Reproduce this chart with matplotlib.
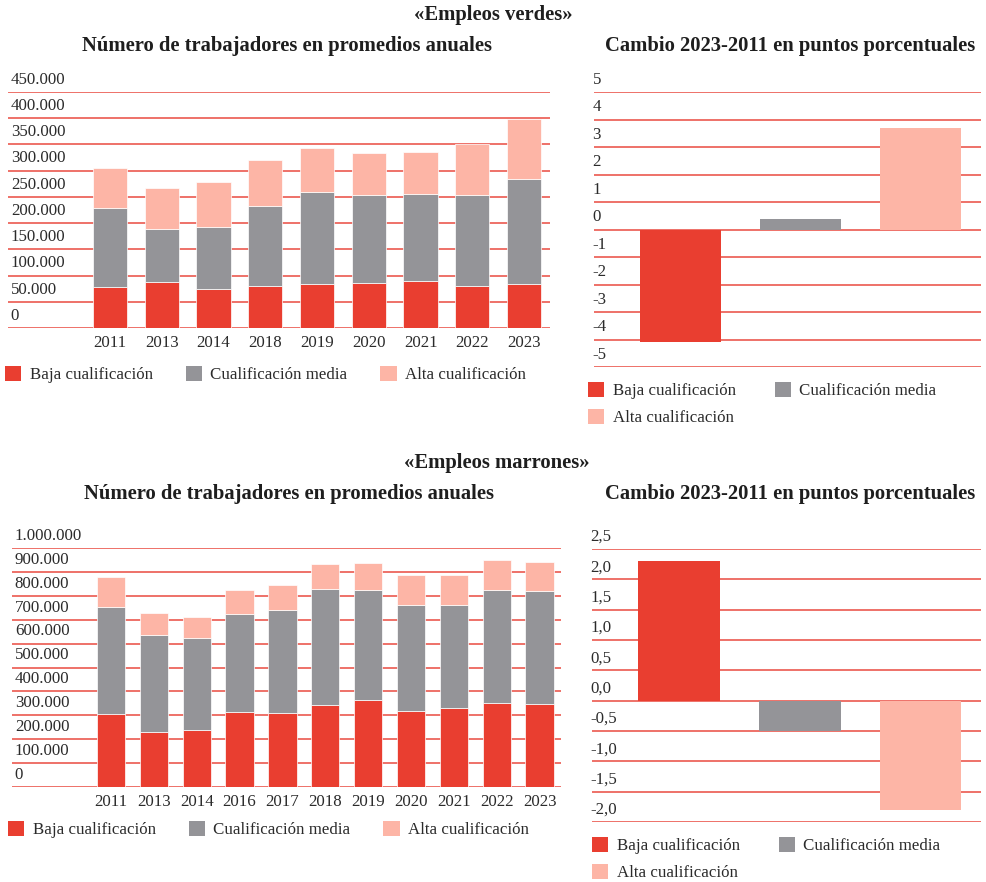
#!/usr/bin/env python
## Empleos verdes / marrones: stacked bars by qualification + change 2023-2011

import numpy as np
import matplotlib
matplotlib.use('Agg')
from matplotlib import pyplot as plt
from matplotlib.patches import Patch

plt.rcParams['font.family'] = ['Liberation Serif', 'DejaVu Serif']

# ---- data ----
series = ['Baja cualificación', 'Cualificación media', 'Alta cualificación']
colors = ['#e93e30', '#949498', '#fdb5a6']

verdes_years = ['2011', '2013', '2014', '2018', '2019', '2020', '2021', '2022', '2023']
verdes_baja = [77500, 87000, 73500, 80500, 84500, 85000, 89000, 79500, 84500]
verdes_media = [152000, 102300, 119500, 152600, 175500, 167800, 165900, 174100, 199000]
verdes_alta = [76200, 78200, 85200, 86400, 83900, 80700, 81300, 97900, 115000]
verdes_cambio = [-4.1, 0.4, 3.7]

marrones_years = ['2011', '2013', '2014', '2016', '2017', '2018', '2019', '2020', '2021', '2022', '2023']
marrones_baja = [306800, 230100, 237100, 313800, 311000, 341700, 364000, 319400, 331900, 350100, 348700]
marrones_media = [446300, 405900, 386300, 410000, 429600, 485400, 461600, 442100, 428200, 475500, 471400]
marrones_alta = [127000, 90600, 86500, 99100, 103200, 105900, 110200, 126900, 126900, 122800, 119900]
marrones_cambio = [2.3, -0.5, -1.8]

verdes_ticks = np.arange(0, 450001, 50000)
marrones_ticks = np.arange(0, 1000001, 100000)
verdes_cambio_ticks = np.arange(-5, 6, 1)
marrones_cambio_ticks = np.arange(-2.0, 2.51, 0.5)

W, H = 986, 882
GRID = '#ea4a40'
TXT = '#2b2b2b'
FS = 12.2

fig = plt.figure(figsize=(W / 100, H / 100), dpi=100)


def px_axes(x0, x1, ytop, ybot):
    return fig.add_axes([x0 / W, 1 - ybot / H, (x1 - x0) / W, (ybot - ytop) / H])


def thousands(v):
    return f"{v:,.0f}".replace(',', '.')


def grid_and_labels(ax, ticks, fmt, dx=2):
    for t in ticks:
        ax.axhline(t, color=GRID, lw=1.1, zorder=1)
        ax.annotate(fmt(t), xy=(0, t), xycoords=('axes fraction', 'data'),
                    xytext=(dx, 3), textcoords='offset points',
                    ha='left', va='bottom', fontsize=FS, color=TXT,
                    annotation_clip=False)
    for s in ax.spines.values():
        s.set_visible(False)
    ax.set_yticks([])


def stacked(ax, years, baja, media, alta, ticks, xlim):
    x = np.arange(len(years))
    bottom = np.zeros(len(years))
    for vals, c in zip([baja, media, alta], colors):
        ax.bar(x, vals, bottom=bottom, width=0.66, color=c,
               edgecolor='white', linewidth=0.5, zorder=2)
        bottom = bottom + np.array(vals)
    ax.set_ylim(ticks[0], ticks[-1])
    ax.set_xlim(*xlim)
    ax.set_xticks(x, years)
    ax.tick_params(axis='x', length=0, pad=5, labelsize=FS, labelcolor=TXT)
    grid_and_labels(ax, ticks, thousands)


def cambio(ax, vals, ticks, fmt):
    x = np.arange(3)
    ax.bar(x, vals, width=0.675, color=colors, zorder=2)
    ax.set_ylim(ticks[0], ticks[-1])
    ax.set_xlim(-0.72, 2.5)
    ax.set_xticks([])
    grid_and_labels(ax, ticks, fmt, dx=-1)


handles = [Patch(facecolor=c, edgecolor='none') for c in colors]


def legend(x, y, ncol):
    if ncol == 2:
        h = [handles[0], handles[2], handles[1]]
        l = [series[0], series[2], series[1]]
        sp = 2.3
    else:
        h, l = handles, series
        sp = 1.95
    fig.legend(h, l, loc='upper left', bbox_to_anchor=(x / W, 1 - y / H),
               ncol=ncol, frameon=False, fontsize=FS, handlelength=0.95,
               handleheight=0.95, handletextpad=0.5, columnspacing=sp,
               labelspacing=0.6, borderpad=0, borderaxespad=0,
               labelcolor=TXT)


def ftext(x, y, s):
    fig.text(x / W, 1 - y / H, s, ha='center', va='center', fontsize=14.9,
             fontweight='bold', color='#1e1e1e')


# ---- top: empleos verdes ----
ftext(493, 15, '«Empleos verdes»')
ftext(287, 46, 'Número de trabajadores en promedios anuales')
ftext(790, 46, 'Cambio 2023-2011 en puntos porcentuales')

ax1 = px_axes(8, 550, 92, 328)
stacked(ax1, verdes_years, verdes_baja, verdes_media, verdes_alta,
        verdes_ticks, (-1.97, 8.5))
legend(5, 366, 3)

ax2 = px_axes(594, 981, 92, 367)
cambio(ax2, verdes_cambio, verdes_cambio_ticks, lambda v: f"{v:.0f}")
legend(588, 382, 2)

# ---- bottom: empleos marrones ----
ftext(497, 463, '«Empleos marrones»')
ftext(289, 494, 'Número de trabajadores en promedios anuales')
ftext(790, 494, 'Cambio 2023-2011 en puntos porcentuales')

ax3 = px_axes(12, 561, 548, 787)
stacked(ax3, marrones_years, marrones_baja, marrones_media, marrones_alta,
        marrones_ticks, (-2.31, 10.5))
legend(8, 821, 3)

ax4 = px_axes(592, 981, 549, 822)
cambio(ax4, marrones_cambio, marrones_cambio_ticks,
       lambda v: f"{v:.1f}".replace('.', ','))
legend(592, 837, 2)

plt.savefig('out.png', dpi=100)
